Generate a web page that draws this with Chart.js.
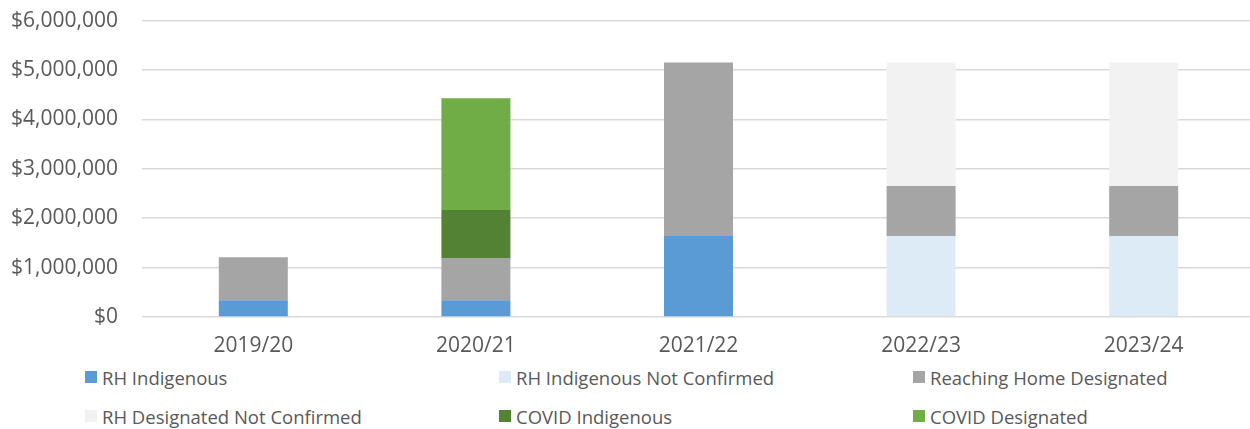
<!DOCTYPE html>
<html>
<head>
<meta charset="utf-8">
<script src="https://cdn.jsdelivr.net/npm/chart.js@4"></script>
<style>
  html, body { margin: 0; padding: 0; background: #fff; overflow: hidden; width: 1250px; height: 429px; position: relative; }
  #wrap { position: absolute; left: 0; top: -16px; width: 1255px; height: 376px; }
  #legend { position: absolute; left: 0; top: 360px; width: 1250px; height: 69px; font-family: "Open Sans", sans-serif; font-size: 18.5px; color: #595959; }
  .li { position: absolute; display: flex; align-items: center; white-space: nowrap; }
  .sw { width: 12px; height: 12px; margin-right: 5px; }
</style>
</head>
<body>
<div id="wrap"><canvas id="c" width="1255" height="376"></canvas></div>
<div id="legend"></div>
<script>
const categories = ["2019/20", "2020/21", "2021/22", "2022/23", "2023/24"];
const seriesNames = ["RH Indigenous", "RH Indigenous Not Confirmed", "Reaching Home Designated", "RH Designated Not Confirmed", "COVID Indigenous", "COVID Designated"];
const rhIndigenous = [337000, 337000, 1640000, 0, 0];
const rhIndigenousNotConfirmed = [0, 0, 0, 1640000, 1640000];
const reachingHomeDesignated = [875000, 855000, 3510000, 1010000, 1010000];
const rhDesignatedNotConfirmed = [0, 0, 0, 2500000, 2500000];
const covidIndigenous = [0, 975000, 0, 0, 0];
const covidDesignated = [0, 2260000, 0, 0, 0];
const yTicks = [0, 1000000, 2000000, 3000000, 4000000, 5000000, 6000000];

const colors = ["#5B9BD5", "#DDEBF7", "#A5A5A5", "#F2F2F2", "#548235", "#70AD47"];
const values = [rhIndigenous, rhIndigenousNotConfirmed, reachingHomeDesignated, rhDesignatedNotConfirmed, covidIndigenous, covidDesignated];

const datasets = seriesNames.map((n, i) => ({
  label: n,
  data: values[i],
  backgroundColor: colors[i],
  borderWidth: 0,
  barPercentage: 0.62,
  categoryPercentage: 0.5,
  stack: "s"
}));

new Chart(document.getElementById("c"), {
  type: "bar",
  data: { labels: categories, datasets },
  options: {
    responsive: false,
    animation: false,
    layout: { padding: { top: 5, left: 0, right: 0, bottom: 0 } },
    plugins: { legend: { display: false }, tooltip: { enabled: false }, title: { display: false } },
    scales: {
      x: {
        stacked: true,
        grid: { display: false, drawTicks: false },
        border: { display: false },
        ticks: { color: "#595959", font: { family: "Open Sans", size: 21 }, padding: 16 },
        afterFit: s => { s.height = 43; }
      },
      y: {
        stacked: true,
        min: yTicks[0],
        max: yTicks[yTicks.length - 1],
        afterBuildTicks: s => { s.ticks = yTicks.map(v => ({ value: v })); },
        grid: { color: "#D9D9D9", lineWidth: 1.5, drawTicks: false },
        border: { display: false },
        ticks: {
          color: "#595959",
          font: { family: "Open Sans", size: 21 },
          padding: 24,
          callback: v => "$" + Number(v).toLocaleString("en-US")
        },
        afterFit: s => { s.width = 142; }
      }
    }
  }
});

const lg = document.getElementById("legend");
const colX = [85, 499, 913];
const rowY = [17, 56];
seriesNames.forEach((n, i) => {
  const d = document.createElement("div");
  d.className = "li";
  d.style.left = colX[i % 3] + "px";
  d.style.top = (rowY[Math.floor(i / 3)] - 12) + "px";
  d.style.height = "24px";
  const sw = document.createElement("span");
  sw.className = "sw";
  sw.style.background = colors[i];
  const t = document.createElement("span");
  t.textContent = n;
  d.appendChild(sw); d.appendChild(t);
  lg.appendChild(d);
});
</script>
</body>
</html>
